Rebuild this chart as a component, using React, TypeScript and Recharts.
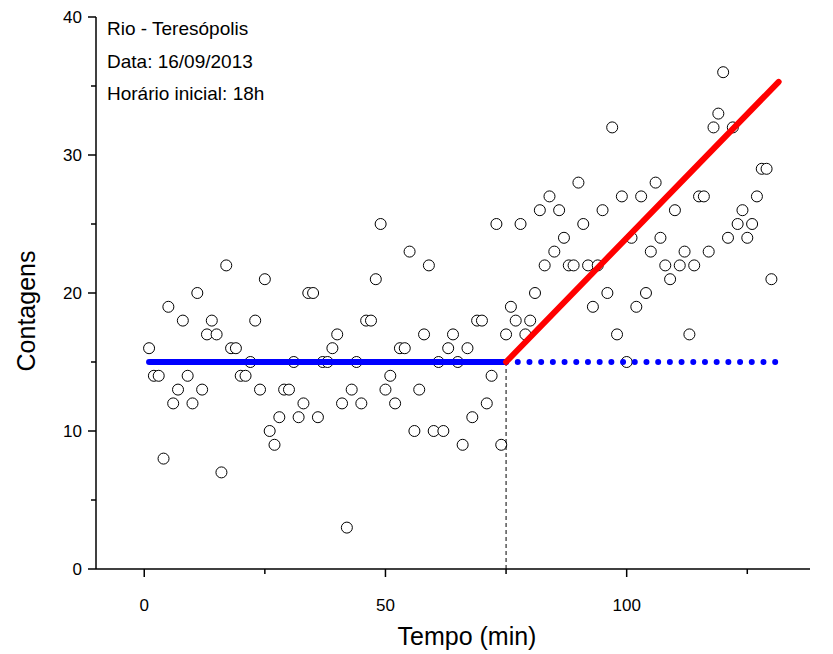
import { ComposedChart, Scatter, Line, XAxis, YAxis, Customized } from 'recharts';

// minutes since start (one reading per minute)
const minutes = [
  1, 2, 3, 4, 5, 6, 7, 8, 9, 10,
  11, 12, 13, 14, 15, 16, 17, 18, 19, 20,
  21, 22, 23, 24, 25, 26, 27, 28, 29, 30,
  31, 32, 33, 34, 35, 36, 37, 38, 39, 40,
  41, 42, 43, 44, 45, 46, 47, 48, 49, 50,
  51, 52, 53, 54, 55, 56, 57, 58, 59, 60,
  61, 62, 63, 64, 65, 66, 67, 68, 69, 70,
  71, 72, 73, 74, 75, 76, 77, 78, 79, 80,
  81, 82, 83, 84, 85, 86, 87, 88, 89, 90,
  91, 92, 93, 94, 95, 96, 97, 98, 99, 100,
  101, 102, 103, 104, 105, 106, 107, 108, 109, 110,
  111, 112, 113, 114, 115, 116, 117, 118, 119, 120,
  121, 122, 123, 124, 125, 126, 127, 128, 129, 130,
];

const counts = [
  16, 14, 14, 8, 19, 12, 13, 18, 14, 12,
  20, 13, 17, 18, 17, 7, 22, 16, 16, 14,
  14, 15, 18, 13, 21, 10, 9, 11, 13, 13,
  15, 11, 12, 20, 20, 11, 15, 15, 16, 17,
  12, 3, 13, 15, 12, 18, 18, 21, 25, 13,
  14, 12, 16, 16, 23, 10, 13, 17, 22, 10,
  15, 10, 16, 17, 15, 9, 16, 11, 18, 18,
  12, 14, 25, 9, 17, 19, 18, 25, 17, 18,
  20, 26, 22, 27, 23, 26, 24, 22, 22, 28,
  25, 22, 19, 22, 26, 20, 32, 17, 27, 15,
  24, 19, 27, 20, 23, 28, 24, 22, 21, 26,
  22, 23, 17, 22, 27, 27, 23, 32, 33, 36,
  24, 32, 25, 26, 24, 25, 27, 29, 29, 21,
];

// fitted lines
const baseX = [1, 75];
const baseY = [15, 15];
const extX = [75, 131.5];
const extY = [15, 15];
const riseX = [75, 131.5];
const riseY = [15, 35.3];
const markX = [75, 75];
const markY = [0, 15];

const xTicks = [0, 25, 50, 75, 100, 125];
const yTicks = [0, 5, 10, 15, 20, 25, 30, 35, 40];

const notes = ['Rio - Teresópolis', 'Data: 16/09/2013', 'Horário inicial: 18h'];

const toPts = (xs: number[], ys: number[]) => xs.map((x, i) => ({ x, y: ys[i] }));
const points = toPts(minutes, counts);

const FONT = 'Arial, "Liberation Sans", sans-serif';

const XTick = (props: any) => {
  const { x, y, payload } = props;
  const major = payload.value % 50 === 0;
  return (
    <g>
      <line x1={x} y1={y} x2={x} y2={y + (major ? 8 : 5)} stroke="#000" strokeWidth={1.5} />
      {major && (
        <text x={x} y={y + 42} textAnchor="middle" fontSize={17} fontFamily={FONT} fill="#000">
          {payload.value}
        </text>
      )}
    </g>
  );
};

const YTick = (props: any) => {
  const { x, y, payload } = props;
  const major = payload.value % 10 === 0;
  return (
    <g>
      <line x1={x} y1={y} x2={x - (major ? 8 : 5)} y2={y} stroke="#000" strokeWidth={1.5} />
      {major && (
        <text x={x - 14} y={y + 6} textAnchor="end" fontSize={17} fontFamily={FONT} fill="#000">
          {payload.value}
        </text>
      )}
    </g>
  );
};

const Circle = (props: any) => (
  <circle cx={props.cx} cy={props.cy} r={5.5} fill="#fff" stroke="#000" strokeWidth={1} />
);

const Notes = () => (
  <g>
    {notes.map((t, i) => (
      <text key={t} x={107} y={35 + i * 32.5} fontSize={19} fontFamily={FONT} fill="#000">
        {t}
      </text>
    ))}
  </g>
);

export default function App() {
  return (
    <div style={{ position: 'absolute', left: 0, top: 0, background: '#fff' }}>
      <ComposedChart width={833} height={654} margin={{ top: 17, right: 23, bottom: 0, left: 0 }}>
        <XAxis
          type="number"
          dataKey="x"
          domain={[-10, 138]}
          ticks={xTicks}
          interval={0}
          tickSize={0}
          tickMargin={0}
          tick={<XTick />}
          height={85}
          axisLine={{ stroke: '#000', strokeWidth: 1.5 }}
          allowDataOverflow
          label={{
            content: (p: any) => (
              <text
                x={p.viewBox.x + p.viewBox.width / 2 + 14}
                y={p.viewBox.y + 67}
                textAnchor="middle"
                dominantBaseline="central"
                fontSize={25}
                fontFamily={FONT}
                fill="#000"
              >
                Tempo (min)
              </text>
            ),
          }}
        />
        <YAxis
          type="number"
          dataKey="y"
          domain={[0, 40]}
          ticks={yTicks}
          interval={0}
          tickSize={0}
          tickMargin={0}
          tick={<YTick />}
          width={96}
          axisLine={{ stroke: '#000', strokeWidth: 1.5 }}
          allowDataOverflow
          label={{
            content: (p: any) => {
              const cx = p.viewBox.x + 26;
              const cy = p.viewBox.y + p.viewBox.height / 2 + 18;
              return (
                <text
                  x={cx}
                  y={cy}
                  transform={`rotate(-90 ${cx} ${cy})`}
                  textAnchor="middle"
                  dominantBaseline="central"
                  fontSize={25}
                  fontFamily={FONT}
                  fill="#000"
                >
                  Contagens
                </text>
              );
            },
          }}
        />
        <Scatter data={points} dataKey="y" shape={<Circle />} zIndex={300} isAnimationActive={false} />
        <Line
          data={toPts(markX, markY)}
          dataKey="y"
          stroke="#000"
          strokeWidth={1}
          strokeDasharray="4 3"
          dot={false}
          activeDot={false}
          zIndex={700}
          isAnimationActive={false}
        />
        <Line
          data={toPts(extX, extY)}
          dataKey="y"
          stroke="#0000ff"
          strokeWidth={6}
          strokeLinecap="round"
          strokeDasharray="0 11.7"
          dot={false}
          activeDot={false}
          zIndex={700}
          isAnimationActive={false}
        />
        <Line
          data={toPts(baseX, baseY)}
          dataKey="y"
          stroke="#0000ff"
          strokeWidth={6}
          strokeLinecap="round"
          dot={false}
          activeDot={false}
          zIndex={700}
          isAnimationActive={false}
        />
        <Line
          data={toPts(riseX, riseY)}
          dataKey="y"
          stroke="#ff0000"
          strokeWidth={6}
          strokeLinecap="round"
          dot={false}
          activeDot={false}
          zIndex={700}
          isAnimationActive={false}
        />
        <Customized component={<Notes />} />
      </ComposedChart>
    </div>
  );
}
